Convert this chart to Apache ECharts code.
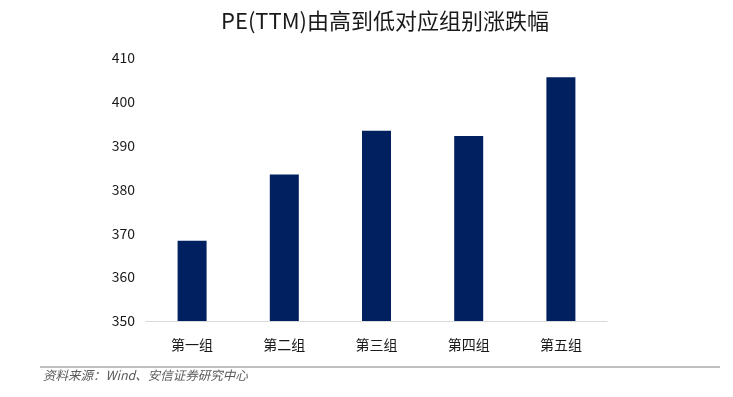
<!DOCTYPE html>
<html>
<head>
<meta charset="utf-8">
<script src="https://cdn.jsdelivr.net/npm/echarts@6/dist/echarts.min.js"></script>
<style>
  html, body { margin: 0; padding: 0; background: #fff; }
  #main { width: 733px; height: 397px; }
</style>
</head>
<body>
<div id="main"></div>
<script>
// 分组与数值
const groups = ["第一组", "第二组", "第三组", "第四组", "第五组"];
const values = [368.3, 383.4, 393.4, 392.2, 405.6];
const titleText = "PE(TTM)由高到低对应组别涨跌幅";
const sourceText = "资料来源：Wind、安信证券研究中心";

let myChart = echarts.init(document.getElementById("main"));
let option = {
  animation: false,
  title: {
    text: titleText,
    left: 380,
    textAlign: "center",
    top: 5,
    textStyle: {
      fontFamily: "Noto Sans CJK SC",
      fontSize: 22,
      fontWeight: "normal",
      color: "#1a1a1a"
    }
  },
  grid: {
    left: 146,
    right: 126,
    top: 58,
    bottom: 76
  },
  xAxis: {
    type: "category",
    data: groups,
    axisLine: { lineStyle: { color: "#d9d9d9", width: 1 } },
    axisTick: { show: false },
    axisLabel: {
      margin: 17,
      fontFamily: "Noto Sans CJK SC",
      fontSize: 14,
      color: "#1a1a1a"
    }
  },
  yAxis: {
    type: "value",
    min: 350,
    max: 410,
    interval: 10,
    splitLine: { show: false },
    axisLine: { show: false },
    axisTick: { show: false },
    axisLabel: {
      margin: 11,
      fontFamily: "Noto Sans CJK SC",
      fontSize: 14,
      color: "#1a1a1a"
    }
  },
  series: [
    {
      type: "bar",
      data: values,
      barWidth: 29,
      itemStyle: { color: "#002060" }
    }
  ],
  graphic: [
    {
      type: "line",
      shape: { x1: 40, y1: 367, x2: 720, y2: 367 },
      style: { stroke: "#808080", lineWidth: 1 }
    },
    {
      type: "text",
      left: 43,
      top: 369,
      style: {
        text: sourceText,
        font: "italic 12.5px 'Noto Sans CJK SC'",
        fill: "#595959"
      }
    }
  ]
};
myChart.setOption(option);
</script>
</body>
</html>
